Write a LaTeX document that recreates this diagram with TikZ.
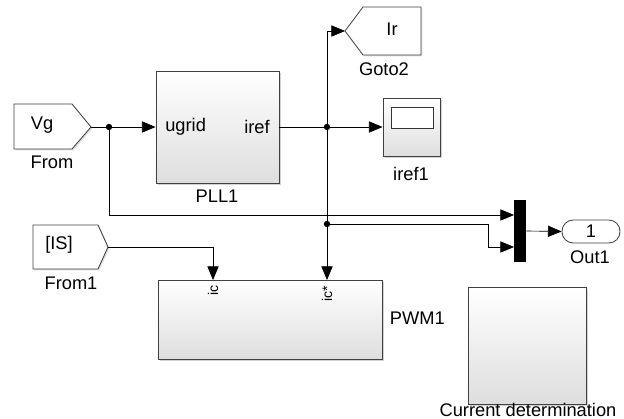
\documentclass[tikz,border=0pt]{standalone}
\usepackage{fontspec}
\setmainfont{Liberation Sans}
\usetikzlibrary{arrows.meta,shadows}

\begin{document}
\begin{tikzpicture}[x=0.025cm,y=-0.025cm,
	font=\fontsize{13}{15}\selectfont,
	blk/.style={draw=black!75, line width=0.6pt, top color=white, bottom color=black!13, inner sep=0pt,
		drop shadow={shadow xshift=0.45mm, shadow yshift=-0.45mm, fill=black!35}},
	tag/.style={draw=black!75, line width=0.6pt, fill=white,
		drop shadow={shadow xshift=0.35mm, shadow yshift=-0.35mm, fill=black!25}},
	port/.style={rotate=90, anchor=east, inner sep=1pt, font=\fontsize{10}{12}\selectfont},
	wire/.style={line width=0.45pt, ->, >={Triangle[length=0.34cm,width=0.28cm]}},
	dot/.style={circle, fill=black, inner sep=0pt, minimum size=0.16cm}]

	\useasboundingbox (0,0) rectangle (624,419);

	\draw[tag] (14,104) -- (72,104) -- (91,127) coordinate (vgtip) -- (72,149) -- (14,149) -- cycle;
	\node (vg) at (42,125) {Vg};
	\node (from) at (52,162) {From};

	\draw[tag] (33,225) -- (98,225) -- (108,247) coordinate (istip) -- (98,269) -- (33,269) -- cycle;
	\node (is) at (59,245) {[IS]};
	\node (from1) at (71,283) {From1};

	\draw[tag] (345,31) coordinate (gototip) -- (363,7) -- (421,7) -- (421,55) -- (363,55) -- cycle;
	\node (ir) at (392,29) {Ir};
	\node (goto2) at (384,69) {Goto2};

	\node (pll) at (217.5,127) [blk, minimum width=3.075cm, minimum height=2.8cm] {};
	\node (ugrid) at ([xshift=0.12cm]pll.west) [anchor=west] {ugrid};
	\node (iref) at ([xshift=-0.12cm]pll.east) [anchor=east] {iref};
	\node (pll1) at (217,196) {PLL1};

	\node (scope) at (411.5,127) [blk, minimum width=1.425cm, minimum height=1.45cm] {};
	\node (screen) at (412,117.5) [draw=black!80, line width=0.6pt, fill=white, minimum width=1.05cm, minimum height=0.525cm, inner sep=0pt] {};
	\node (iref1) at (411,174) {iref1};

	\node (mux) at (520,231) [fill=black, minimum width=0.3cm, minimum height=1.55cm, inner sep=0pt] {};
	\node (out) at (591,231.5) [draw=black!75, line width=0.6pt, fill=white, rounded corners=0.28cm, minimum width=1.45cm, minimum height=0.575cm, inner sep=0pt] {1};
	\node (out1) at (590,257) {Out1};

	\node (pwm) at (270,319.5) [blk, minimum width=5.6cm, minimum height=1.975cm] {};
	\node (ic) at (213,284) [port] {ic};
	\node (icstar) at (327,284) [port] {ic*};
	\node (pwm1) at (385,318) [anchor=west] {PWM1};

	\node (cur) at (527,345.5) [blk, minimum width=2.95cm, minimum height=2.925cm] {};
	\node (curlbl) at (528,410) [inner sep=0pt] {Current determination};

	\coordinate (j1) at (109,127);
	\coordinate (j2) at (327,127);
	\coordinate (j3) at (327,224);
	\coordinate (bend) at (488,224);
	\coordinate (min1) at (514,215);
	\coordinate (min2) at (514,247);
	\coordinate (icin) at (213,280);
	\coordinate (icsin) at (327,280);

	\draw[wire] (vgtip) -- (pll.west);
	\draw[wire] (j1) |- (min1);
	\draw[wire] (pll.east) -- (scope.west);
	\draw[wire] (j2) |- (gototip);
	\draw[wire] (j2) -- (icsin);
	\draw[wire] (j3) -- (bend) |- (min2);
	\draw[wire] (istip) -| (icin);
	\draw[wire] (mux.east) -- (out.west);

	\node (d1) at (j1) [dot] {};
	\node (d2) at (j2) [dot] {};
	\node (d3) at (j3) [dot] {};

\end{tikzpicture}
\end{document}
